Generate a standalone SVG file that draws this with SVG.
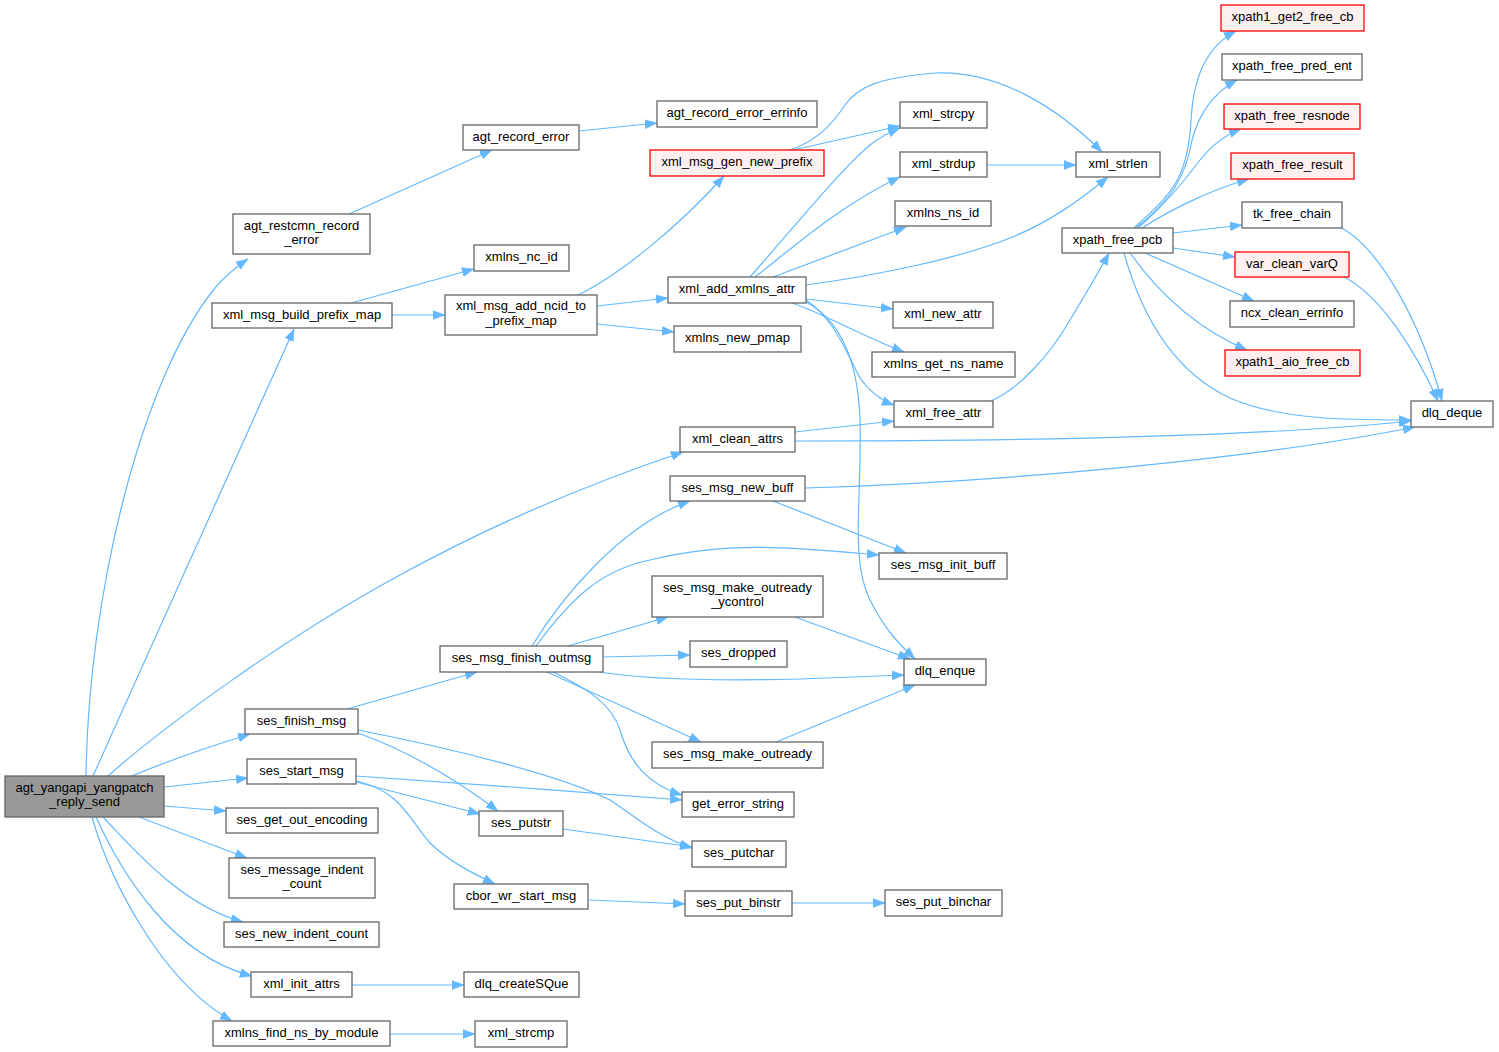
<svg xmlns="http://www.w3.org/2000/svg" width="1499" height="1052" viewBox="0 0 1499 1052">
<style>
.n rect{fill:#ffffff;stroke:#666666;stroke-width:1.3}
.m rect{fill:#999999;stroke:#666666;stroke-width:1.3}
.r rect{fill:#fff0f0;stroke:#ff0000;stroke-width:1.3}
text{font-family:"Liberation Sans",Arial,Helvetica,sans-serif;font-size:13px;fill:#000000;text-anchor:middle}
#edges path{fill:none;stroke:#63b8ff;stroke-width:1.2;marker-end:url(#ah)}
</style>
<defs>
<marker id="ah" markerUnits="userSpaceOnUse" markerWidth="13" markerHeight="10" refX="12" refY="5" orient="auto">
<path d="M0,0.5 L12,5 L0,9.5 z" fill="#63b8ff" stroke="#63b8ff" stroke-width="0.5"/>
</marker>
</defs>
<rect width="1499" height="1052" fill="#ffffff"/>
<g id="edges">
<path d="M86,776 C88,600 140,380 215,288 C226,275 236,267 248,259"/>
<path d="M93,776 L294,329"/>
<path d="M108,776 C160,730 280,640 400,575 C500,520 600,480 683,452"/>
<path d="M132,776 C165,762 205,748 250,734"/>
<path d="M164,787 L248,778"/>
<path d="M164,806 L226,811"/>
<path d="M139,817 L247,858"/>
<path d="M103,817 C130,845 180,905 243,922"/>
<path d="M96,817 C120,870 170,955 252,976"/>
<path d="M92,817 C110,880 160,980 232,1021"/>
<path d="M347,709 L477,672"/>
<path d="M358,733 C400,748 450,775 498,811"/>
<path d="M358,730 C450,748 560,775 610,800 C640,820 660,838 692,848"/>
<path d="M356,776 C450,782 580,792 682,800"/>
<path d="M356,782 L480,814"/>
<path d="M356,781 C400,790 410,820 430,843 C450,862 470,872 495,884"/>
<path d="M532,646 C560,600 620,525 690,501"/>
<path d="M536,646 C570,600 600,570 650,560 C730,540 800,548 879,555"/>
<path d="M568,646 L668,617"/>
<path d="M603,657 L690,655"/>
<path d="M599,672 C650,680 720,681 800,679 L904,675"/>
<path d="M547,672 L701,742"/>
<path d="M553,672 C590,690 612,705 620,730 C630,765 650,785 682,795"/>
<path d="M795,617 L910,659"/>
<path d="M776,742 L915,685"/>
<path d="M563,829 L692,847"/>
<path d="M589,900 L685,904"/>
<path d="M792,903 L885,903"/>
<path d="M352,985 L464,985"/>
<path d="M390,1034 L475,1034"/>
<path d="M349,214 L492,150"/>
<path d="M579,131 L657,123"/>
<path d="M351,303 L474,269"/>
<path d="M392,315 L445,315"/>
<path d="M578,295 C620,275 680,225 724,176"/>
<path d="M597,306 L668,298"/>
<path d="M597,324 L674,332"/>
<path d="M793,150 L900,126"/>
<path d="M790,150 C820,140 835,120 845,105 C860,85 880,78 935,73 C1000,70 1060,110 1102,152"/>
<path d="M750,277 C790,232 840,170 870,145 C880,137 890,132 900,128"/>
<path d="M755,277 C790,250 840,205 900,177"/>
<path d="M773,277 L906,227"/>
<path d="M806,285 C880,275 960,258 1010,238 C1050,222 1080,200 1108,177"/>
<path d="M806,299 L893,309"/>
<path d="M792,303 C820,312 860,335 904,352"/>
<path d="M806,300 C835,320 845,350 860,378 C870,392 880,400 894,405"/>
<path d="M806,302 C840,320 858,360 860,420 C862,500 850,560 870,600 C885,630 900,645 915,659"/>
<path d="M795,432 L894,421"/>
<path d="M795,441 C1000,441 1250,438 1411,421"/>
<path d="M805,488 C1000,482 1250,460 1415,427"/>
<path d="M773,501 L906,553"/>
<path d="M991,401 C1020,388 1050,355 1070,320 C1085,295 1100,270 1109,253"/>
<path d="M987,165 L1076,165"/>
<path d="M1134,228 C1170,195 1188,180 1191,120 C1194,70 1210,45 1236,31"/>
<path d="M1136,228 C1170,200 1185,180 1192,140 C1200,110 1215,92 1237,80"/>
<path d="M1138,228 C1165,205 1185,180 1200,160 C1212,145 1225,135 1241,129"/>
<path d="M1142,228 C1170,210 1210,190 1249,179"/>
<path d="M1173,233 L1242,225"/>
<path d="M1173,248 L1235,257"/>
<path d="M1145,253 L1254,301"/>
<path d="M1130,253 C1160,295 1200,330 1247,350"/>
<path d="M1124,253 C1140,310 1170,370 1230,398 C1280,420 1350,420 1411,420"/>
<path d="M1342,228 C1380,250 1420,320 1442,401"/>
<path d="M1344,277 C1380,295 1415,350 1438,401"/>
</g>
<g id="agt_yangapi_yangpatch_reply_send" class="m"><rect x="5" y="776" width="159" height="41"/><text x="84.5" y="792">agt_yangapi_yangpatch</text><text x="84.5" y="806">_reply_send</text></g>
<g id="agt_restcmn_record_error" class="n"><rect x="233" y="214" width="137" height="40"/><text x="301.5" y="230">agt_restcmn_record</text><text x="301.5" y="244">_error</text></g>
<g id="agt_record_error" class="n"><rect x="463" y="125" width="116" height="25"/><text x="521" y="141">agt_record_error</text></g>
<g id="agt_record_error_errinfo" class="n"><rect x="657" y="101" width="160" height="26"/><text x="737" y="117">agt_record_error_errinfo</text></g>
<g id="xml_msg_build_prefix_map" class="n"><rect x="212" y="303" width="180" height="25"/><text x="302" y="319">xml_msg_build_prefix_map</text></g>
<g id="xmlns_nc_id" class="n"><rect x="474" y="245" width="95" height="26"/><text x="521.5" y="261">xmlns_nc_id</text></g>
<g id="xml_msg_add_ncid_to_prefix_map" class="n"><rect x="445" y="295" width="152" height="40"/><text x="521" y="310">xml_msg_add_ncid_to</text><text x="521" y="325">_prefix_map</text></g>
<g id="xml_msg_gen_new_prefix" class="r"><rect x="650" y="150" width="174" height="26"/><text x="737" y="166">xml_msg_gen_new_prefix</text></g>
<g id="xml_add_xmlns_attr" class="n"><rect x="668" y="277" width="138" height="26"/><text x="737" y="293">xml_add_xmlns_attr</text></g>
<g id="xmlns_new_pmap" class="n"><rect x="674" y="326" width="127" height="26"/><text x="737.5" y="342">xmlns_new_pmap</text></g>
<g id="xml_strcpy" class="n"><rect x="900" y="102" width="87" height="26"/><text x="943.5" y="118">xml_strcpy</text></g>
<g id="xml_strdup" class="n"><rect x="900" y="152" width="87" height="25"/><text x="943.5" y="168">xml_strdup</text></g>
<g id="xmlns_ns_id" class="n"><rect x="895" y="201" width="96" height="25"/><text x="943" y="217">xmlns_ns_id</text></g>
<g id="xml_new_attr" class="n"><rect x="893" y="302" width="100" height="26"/><text x="943" y="318">xml_new_attr</text></g>
<g id="xmlns_get_ns_name" class="n"><rect x="872" y="352" width="143" height="25"/><text x="943.5" y="368">xmlns_get_ns_name</text></g>
<g id="xml_free_attr" class="n"><rect x="894" y="401" width="99" height="26"/><text x="943.5" y="417">xml_free_attr</text></g>
<g id="xml_strlen" class="n"><rect x="1076" y="152" width="84" height="25"/><text x="1118" y="168">xml_strlen</text></g>
<g id="xpath_free_pcb" class="n"><rect x="1062" y="228" width="111" height="25"/><text x="1117.5" y="244">xpath_free_pcb</text></g>
<g id="xpath1_get2_free_cb" class="r"><rect x="1221" y="5" width="143" height="26"/><text x="1292.5" y="21">xpath1_get2_free_cb</text></g>
<g id="xpath_free_pred_ent" class="n"><rect x="1222" y="54" width="140" height="26"/><text x="1292" y="70">xpath_free_pred_ent</text></g>
<g id="xpath_free_resnode" class="r"><rect x="1224" y="104" width="136" height="25"/><text x="1292" y="120">xpath_free_resnode</text></g>
<g id="xpath_free_result" class="r"><rect x="1231" y="153" width="123" height="26"/><text x="1292.5" y="169">xpath_free_result</text></g>
<g id="tk_free_chain" class="n"><rect x="1242" y="202" width="100" height="26"/><text x="1292" y="218">tk_free_chain</text></g>
<g id="var_clean_varQ" class="r"><rect x="1235" y="252" width="114" height="25"/><text x="1292" y="268">var_clean_varQ</text></g>
<g id="ncx_clean_errinfo" class="n"><rect x="1230" y="301" width="124" height="26"/><text x="1292" y="317">ncx_clean_errinfo</text></g>
<g id="xpath1_aio_free_cb" class="r"><rect x="1225" y="350" width="135" height="26"/><text x="1292.5" y="366">xpath1_aio_free_cb</text></g>
<g id="dlq_deque" class="n"><rect x="1411" y="401" width="82" height="26"/><text x="1452" y="417">dlq_deque</text></g>
<g id="xml_clean_attrs" class="n"><rect x="680" y="427" width="115" height="25"/><text x="737.5" y="443">xml_clean_attrs</text></g>
<g id="ses_msg_new_buff" class="n"><rect x="670" y="476" width="135" height="25"/><text x="737.5" y="492">ses_msg_new_buff</text></g>
<g id="ses_msg_init_buff" class="n"><rect x="879" y="553" width="128" height="26"/><text x="943" y="569">ses_msg_init_buff</text></g>
<g id="ses_msg_make_outready_ycontrol" class="n"><rect x="652" y="576" width="171" height="41"/><text x="737.5" y="592">ses_msg_make_outready</text><text x="737.5" y="606">_ycontrol</text></g>
<g id="ses_msg_finish_outmsg" class="n"><rect x="440" y="646" width="163" height="26"/><text x="521.5" y="662">ses_msg_finish_outmsg</text></g>
<g id="ses_dropped" class="n"><rect x="690" y="641" width="97" height="26"/><text x="738.5" y="657">ses_dropped</text></g>
<g id="dlq_enque" class="n"><rect x="904" y="659" width="82" height="26"/><text x="945" y="675">dlq_enque</text></g>
<g id="ses_finish_msg" class="n"><rect x="245" y="709" width="113" height="25"/><text x="301.5" y="725">ses_finish_msg</text></g>
<g id="ses_msg_make_outready" class="n"><rect x="652" y="742" width="171" height="26"/><text x="737.5" y="758">ses_msg_make_outready</text></g>
<g id="ses_start_msg" class="n"><rect x="247" y="759" width="109" height="25"/><text x="301.5" y="775">ses_start_msg</text></g>
<g id="get_error_string" class="n"><rect x="682" y="792" width="112" height="25"/><text x="738" y="808">get_error_string</text></g>
<g id="ses_get_out_encoding" class="n"><rect x="226" y="808" width="152" height="25"/><text x="302" y="824">ses_get_out_encoding</text></g>
<g id="ses_putstr" class="n"><rect x="479" y="811" width="84" height="25"/><text x="521" y="827">ses_putstr</text></g>
<g id="ses_putchar" class="n"><rect x="692" y="841" width="94" height="26"/><text x="739" y="857">ses_putchar</text></g>
<g id="ses_message_indent_count" class="n"><rect x="229" y="858" width="146" height="40"/><text x="302" y="874">ses_message_indent</text><text x="302" y="888">_count</text></g>
<g id="cbor_wr_start_msg" class="n"><rect x="454" y="884" width="134" height="25"/><text x="521" y="900">cbor_wr_start_msg</text></g>
<g id="ses_put_binstr" class="n"><rect x="685" y="891" width="107" height="25"/><text x="738.5" y="907">ses_put_binstr</text></g>
<g id="ses_put_binchar" class="n"><rect x="885" y="890" width="117" height="26"/><text x="943.5" y="906">ses_put_binchar</text></g>
<g id="ses_new_indent_count" class="n"><rect x="224" y="922" width="155" height="25"/><text x="301.5" y="938">ses_new_indent_count</text></g>
<g id="xml_init_attrs" class="n"><rect x="251" y="972" width="101" height="25"/><text x="301.5" y="988">xml_init_attrs</text></g>
<g id="dlq_createSQue" class="n"><rect x="464" y="972" width="115" height="25"/><text x="521.5" y="988">dlq_createSQue</text></g>
<g id="xmlns_find_ns_by_module" class="n"><rect x="213" y="1021" width="177" height="25"/><text x="301.5" y="1037">xmlns_find_ns_by_module</text></g>
<g id="xml_strcmp" class="n"><rect x="475" y="1021" width="92" height="26"/><text x="521" y="1037">xml_strcmp</text></g>
</svg>
